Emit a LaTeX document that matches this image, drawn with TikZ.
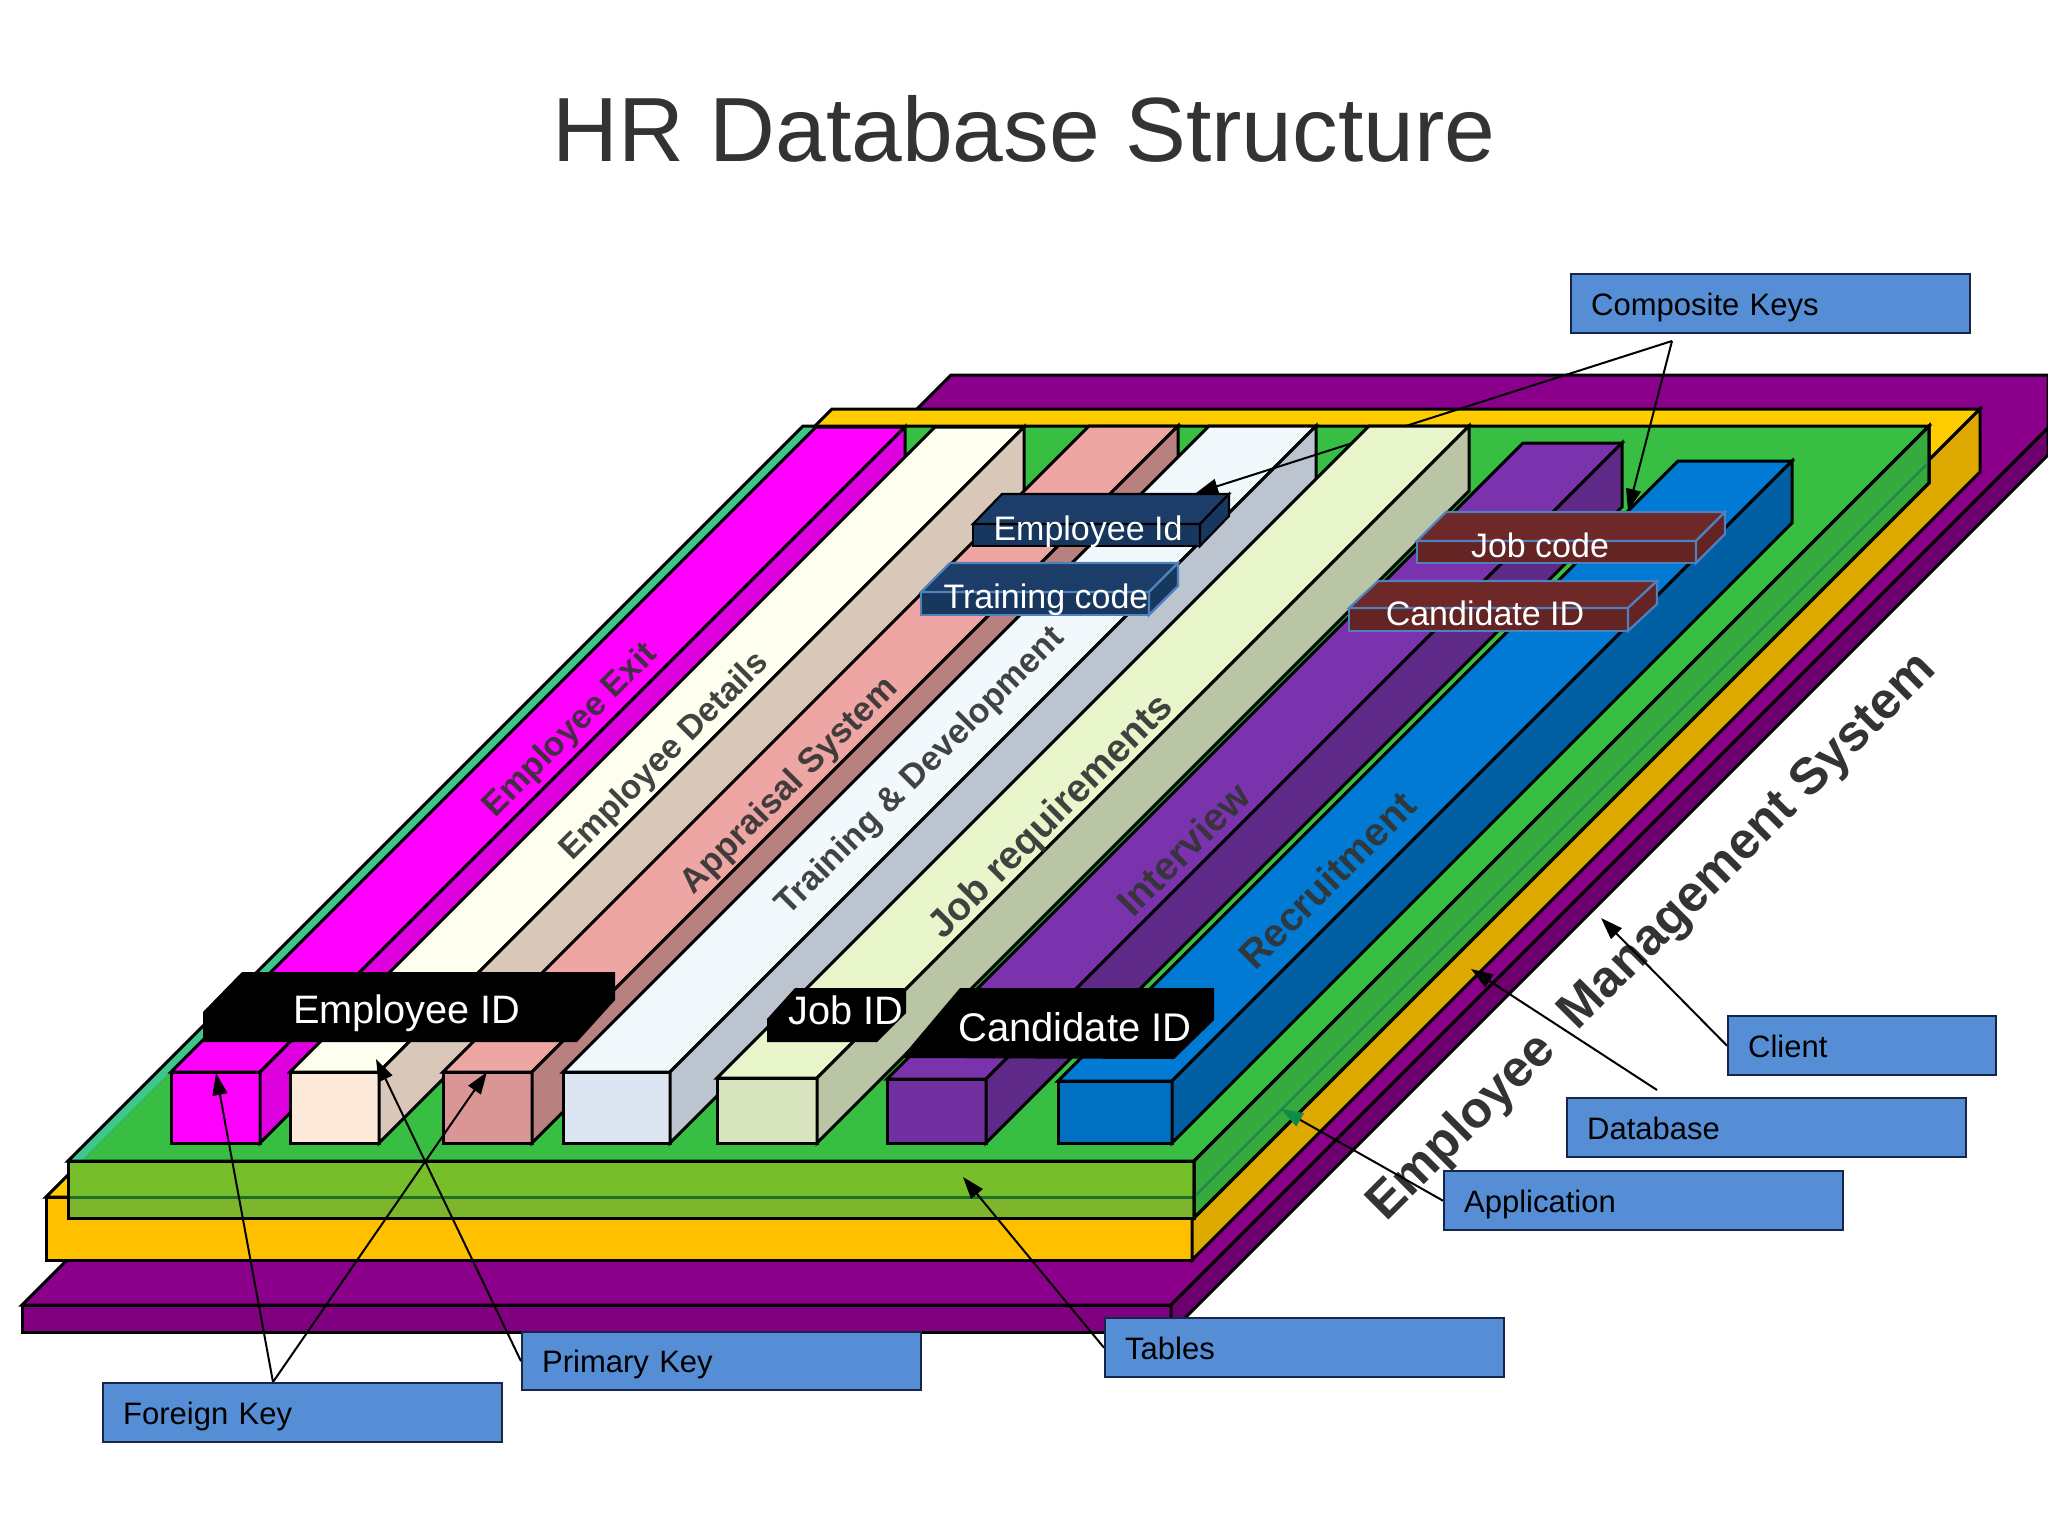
\documentclass[tikz,border=0pt]{standalone}
\usepackage{fontspec}
\setmainfont{Liberation Sans}
\usetikzlibrary{arrows.meta}
\pgfdeclarelayer{plates}\pgfdeclarelayer{greenplate}\pgfdeclarelayer{barsA}\pgfdeclarelayer{compconn}\pgfdeclarelayer{barsB}\pgfdeclarelayer{texts}\pgfdeclarelayer{arrowsl}
\pgfsetlayers{plates,greenplate,barsA,compconn,barsB,texts,arrowsl,main}
\newcommand{\fsz}[1]{\fontsize{#1}{#1}\selectfont}
\newcommand{\hrbar}[8]{%
 \filldraw[edge,fill=#6] (#1,#3) rectangle (#2,#4);
 \filldraw[edge,fill=#7] (#1,#3)--(#2,#3)--({#2+#5},{#3-#5})--({#1+#5},{#3-#5})--cycle;
 \filldraw[edge,fill=#8] (#2,#3)--({#2+#5},{#3-#5})--({#2+#5},{#4-#5})--(#2,#4)--cycle;}
% x1 x2 ytop ybottom dx dy front/top colour side colour border
\newcommand{\hrbox}[9]{%
 \filldraw[draw=#9,line width=2.2pt,fill=#7] (#1,#3) rectangle (#2,#4);
 \filldraw[draw=#9,line width=2.2pt,fill=#8] (#1,#3)--(#2,#3)--({#2+#5},{#3-#6})--({#1+#5},{#3-#6})--cycle;
 \filldraw[draw=#9,line width=2.2pt,fill=#7] (#2,#3)--({#2+#5},{#3-#6})--({#2+#5},{#4-#6})--(#2,#4)--cycle;}
\definecolor{frontA}{HTML}{FF00FF}\definecolor{topA}{HTML}{FF00FF}\definecolor{sideA}{HTML}{DF00DF}
\definecolor{frontB}{HTML}{FDE9D9}\definecolor{topB}{HTML}{FFFFEF}\definecolor{sideB}{HTML}{D9C7B9}
\definecolor{frontC}{HTML}{D99694}\definecolor{topC}{HTML}{EDA6A4}\definecolor{sideC}{HTML}{B98080}
\definecolor{frontD}{HTML}{DCE6F2}\definecolor{topD}{HTML}{F1F9FD}\definecolor{sideD}{HTML}{BCC4D0}
\definecolor{frontE}{HTML}{D7E4BD}\definecolor{topE}{HTML}{E9F6CC}\definecolor{sideE}{HTML}{B9C5A5}
\definecolor{frontF}{HTML}{7030A0}\definecolor{topF}{HTML}{7A33AC}\definecolor{sideF}{HTML}{5F2988}
\definecolor{frontG}{HTML}{0070C0}\definecolor{topG}{HTML}{007AD2}\definecolor{sideG}{HTML}{005FA3}
\definecolor{labelblue}{HTML}{558ED5}\definecolor{labeledge}{HTML}{17254A}
\definecolor{navyfront}{HTML}{17375E}\definecolor{navytop}{HTML}{1B3D68}
\definecolor{redfront}{HTML}{632423}\definecolor{redtop}{HTML}{6E2828}\definecolor{boxedge}{HTML}{4F81BD}
\definecolor{pltop}{HTML}{8B008B}\definecolor{plfront}{HTML}{800080}\definecolor{plside}{HTML}{6E006E}
\definecolor{ytop}{HTML}{FFCC00}\definecolor{yfront}{HTML}{FFC000}\definecolor{yside}{HTML}{DDA800}
\definecolor{gtop}{HTML}{39BE44}\definecolor{gfront}{HTML}{76BF2A}\definecolor{gfrontb}{HTML}{7DB62D}\definecolor{gside}{HTML}{36AA3C}\definecolor{gteal}{HTML}{3FC68C}\definecolor{gline}{HTML}{1C8A48}\definecolor{gfrontline}{HTML}{1F6E2C}\definecolor{ghead}{HTML}{0E8A4A}
\definecolor{inktext}{HTML}{333333}
\tikzset{
 edge/.style={draw=black,line width=3pt,line join=miter},
 labelbox/.style n args={2}{draw=labeledge,line width=2.4pt,fill=labelblue,anchor=north west,minimum width=#1,minimum height=#2,inner xsep=20pt,inner ysep=0pt,text width=#1-40pt,text height=30pt,text depth=6.5pt,align=left,font=\fsz{31},text=black},
 bartext/.style={rotate=45,text=inktext,text opacity=0.92},
 keytext/.style={text=white,font=\fsz{34},inner sep=0pt},
 idtext/.style={text=white,font=\fsz{39.7},inner sep=0pt},
 conn/.style={draw=black,line width=2pt,-{Triangle[length=22pt,width=15pt]}},
}
\begin{document}
\begin{tikzpicture}[x=1pt,y=-1pt]
\useasboundingbox (0,0) rectangle (2048,1536);
\node[anchor=center,text=inktext,font=\fsz{91.2},inner sep=0pt] (title) at (1024,129) {HR Database Structure};
% label boxes
\node[labelbox={399pt}{59pt}] (composite) at (1570,273) {Composite Keys};
\node[labelbox={399pt}{59pt}] (foreign) at (102,1382) {Foreign Key};
\node[labelbox={399pt}{58pt}] (primary) at (521,1331) {Primary Key};
\node[labelbox={399pt}{59pt}] (tables) at (1104,1317) {Tables};
\node[labelbox={399pt}{59pt}] (application) at (1443,1170) {Application};
\node[labelbox={399pt}{59pt}] (database) at (1566,1097) {Database};
\node[labelbox={268pt}{59pt}] (client) at (1727,1015) {Client};
% free ends
\coordinate (compapex) at (1672,341);
\coordinate (fkapex) at (273,1382);
\coordinate (dbend) at (1657,1090);
\coordinate (tEmpId) at (1196,493);
\coordinate (tJobCode) at (1628,511);
\coordinate (tMag) at (216,1073);
\coordinate (tPink) at (487,1072);
\coordinate (tCream) at (376,1059);
\coordinate (tTables) at (963,1177);
\coordinate (tApp) at (1281,1109);
\coordinate (tDb) at (1471,969);
\coordinate (tClient) at (1601,918);

\begin{pgfonlayer}{plates}
 \node[rotate=45,font=\bfseries\fsz{51.2},text=inktext,inner sep=0pt] (ems) at (1653,938) {Employee\ \ Management System};
 % purple plate
 \filldraw[edge,fill=pltop] (22,1305)--(1171,1305)--(2048,428)--(2048,375)--(951,375)--cycle;
 \filldraw[edge,fill=plfront] (22,1305) rectangle (1171,1332);
 \filldraw[edge,fill=plside] (1171,1305)--(2048,428)--(2048,455)--(1171,1332)--cycle;
 % yellow plate
 \filldraw[edge,fill=ytop] (46,1197)--(1192,1197)--(1980,409)--(832,409)--cycle;
 \filldraw[edge,fill=yfront] (46,1197) rectangle (1192,1260);
 \filldraw[edge,fill=yside] (1192,1197)--(1980,409)--(1980,472)--(1192,1260)--cycle;
\end{pgfonlayer}

\begin{pgfonlayer}{greenplate}
 % green plate
 \fill[gteal] (68,1161)--(803,426)--(818,426)--(82,1161)--cycle;
 \fill[gtop] (82,1161)--(1194,1161)--(1929,426)--(818,426)--cycle;
 \draw[edge] (68,1161)--(1194,1161)--(1929,426)--(803,426)--cycle;
 \fill[gfront] (68,1161) rectangle (1194,1197);
 \fill[gfrontb] (68,1197) rectangle (1194,1218);
 \draw[gfrontline,line width=3pt] (68,1197)--(1194,1197);
 \draw[edge] (68,1161) rectangle (1194,1218);
 \filldraw[edge,fill=gside] (1194,1161)--(1929,426)--(1929,483)--(1194,1218)--cycle;
 \draw[gline,line width=2.5pt] (1194,1197)--(1929,462);
 \draw[edge] (1194,1161)--(1929,426)--(1929,483)--(1194,1218)--cycle;
 \draw[draw=black,line width=2pt,-{Triangle[length=22pt,width=15pt,color=ghead]}] (application.west) -- (tApp);
\end{pgfonlayer}

\begin{pgfonlayer}{barsA}
 \hrbar{171}{260}{1072}{1143}{645}{frontA}{topA}{sideA}
 \hrbar{290}{379}{1072}{1143}{645}{frontB}{topB}{sideB}
 \hrbar{443}{532}{1072}{1143}{646}{frontC}{topC}{sideC}
 \hrbar{563}{670}{1072}{1143}{646}{frontD}{topD}{sideD}
\end{pgfonlayer}

\begin{pgfonlayer}{compconn}
 \draw[conn] (compapex) -- (tEmpId);
\end{pgfonlayer}

\begin{pgfonlayer}{barsB}
 \hrbar{717}{817}{1078}{1143}{652}{frontE}{topE}{sideE}
 \hrbar{887}{986}{1079}{1143}{636}{frontF}{topF}{sideF}
 \hrbar{1058}{1172}{1081}{1143}{620}{frontG}{topG}{sideG}
\end{pgfonlayer}

\begin{pgfonlayer}{texts}
 \node[bartext,font=\bfseries\fsz{33.7}] (tExit) at (571,731) {Employee Exit};
 \node[bartext,font=\bfseries\fsz{33.7}] (tDetails) at (665,757) {Employee Details};
 \node[bartext,font=\bfseries\fsz{34.6}] (tAppraisal) at (790,786) {Appraisal System};
 \node[bartext,font=\bfseries\fsz{34.2}] (tTraining) at (921,772) {Training \& Development};
 \node[bartext,font=\bfseries\fsz{39}] (tJobreq) at (1052,818) {Job requirements};
 \node[bartext,font=\bfseries\fsz{39}] (tInterview) at (1183,849) {Interview};
 \node[bartext,font=\bfseries\fsz{39.5}] (tRecruit) at (1327,880) {Recruitment};
 % small key boxes
 \hrbox{973}{1200}{524}{546}{29}{30}{navyfront}{navytop}{black}
 \node[keytext] (empid) at (1088,532) {Employee Id};
 \hrbox{921}{1149}{592}{615}{29}{29}{navyfront}{navytop}{boxedge}
 \node[keytext] (traincode) at (1046,600) {Training code};
 \hrbox{1417}{1696}{541}{563}{29}{29}{redfront}{redtop}{boxedge}
 \node[keytext] (jobcode) at (1540,545) {Job code};
 \hrbox{1349}{1628}{608}{631}{29}{27}{redfront}{redtop}{boxedge}
 \node[keytext] (candcode) at (1485,613) {Candidate ID};
 % black primary-key banners
 \fill[black] (242,972)--(615,972)--(615,1000)--(577,1042)--(203,1042)--(203,1012)--cycle;
 \node[idtext] (empbanner) at (407,1013) {Employee ID};
 \fill[black] (795,988)--(906,988)--(906,1013)--(877,1042)--(767,1042)--(767,1019)--cycle;
 \node[idtext] (jobbanner) at (846,1010) {Job ID};
 \fill[black] (901,1058)--(960,988)--(1214,988)--(1214,1020)--(1174,1059)--cycle;
 \node[idtext,font=\fsz{40}] (candbanner) at (1075,1027) {Candidate ID};
\end{pgfonlayer}

\begin{pgfonlayer}{arrowsl}
 \draw[conn] (compapex) -- (tJobCode);
 \draw[conn] (fkapex) -- (tMag);
 \draw[conn] (fkapex) -- (tPink);
 \draw[conn] (primary.west) -- (tCream);
 \draw[conn] (tables.west) -- (tTables);
 \draw[conn] (dbend) -- (tDb);
 \draw[conn] (client.west) -- (tClient);
\end{pgfonlayer}
\end{tikzpicture}
\end{document}
